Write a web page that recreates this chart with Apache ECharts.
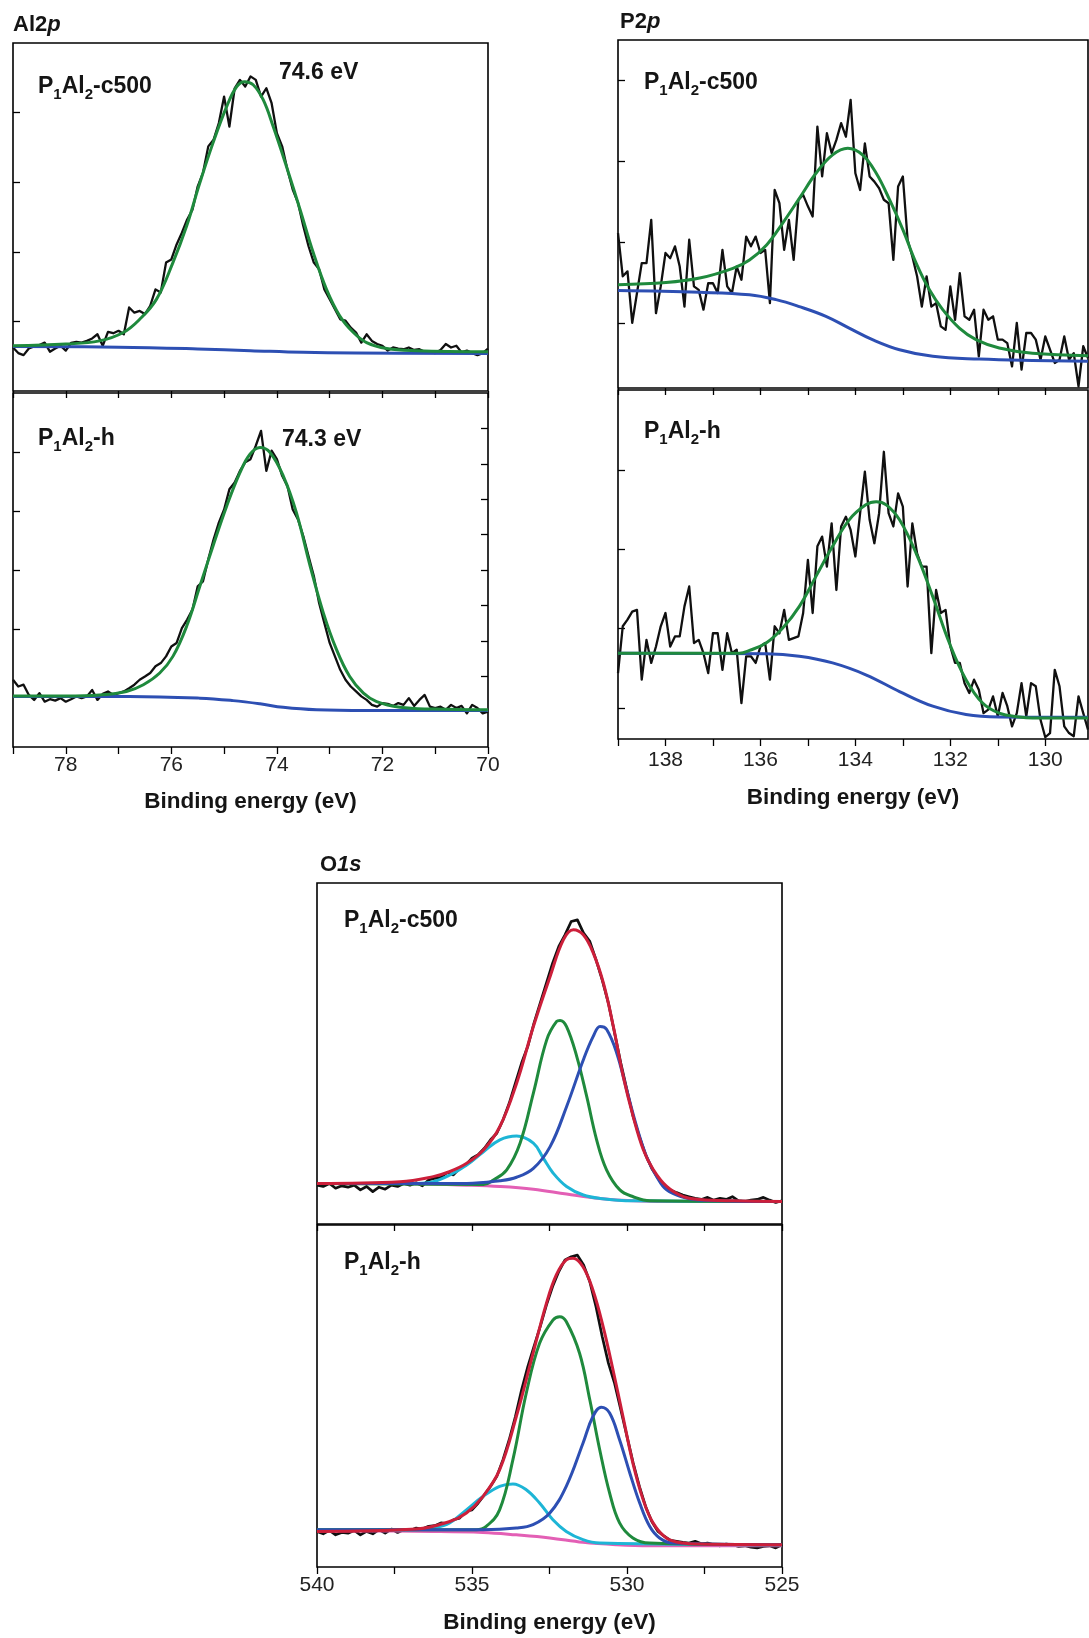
<!DOCTYPE html>
<html>
<head>
<meta charset="utf-8">
<script src="https://cdn.jsdelivr.net/npm/echarts@6/dist/echarts.min.js"></script>
<style>html,body{margin:0;padding:0;background:#fff}#c{width:1089px;height:1638px}</style>
</head>
<body>
<div id="c"></div>
<script>
// ---------------- Al 2p ----------------
const alE = [79.0,78.9,78.8,78.7,78.6,78.5,78.4,78.3,78.2,78.1,
78.0,77.9,77.8,77.7,77.6,77.5,77.4,77.3,77.2,77.1,
77.0,76.9,76.8,76.7,76.6,76.5,76.4,76.3,76.2,76.1,
76.0,75.9,75.8,75.7,75.6,75.5,75.4,75.3,75.2,75.1,
75.0,74.9,74.8,74.7,74.6,74.5,74.4,74.3,74.2,74.1,
74.0,73.9,73.8,73.7,73.6,73.5,73.4,73.3,73.2,73.1,
73.0,72.9,72.8,72.7,72.6,72.5,72.4,72.3,72.2,72.1,
72.0,71.9,71.8,71.7,71.6,71.5,71.4,71.3,71.2,71.1,
71.0,70.9,70.8,70.7,70.6,70.5,70.4,70.3,70.2,70.1,
70.0];
const alTopRaw = [12.5,10.9,10.3,12.2,12.8,13.2,13.9,11.3,12.2,13.0,
11.6,13.8,14.1,13.9,14.4,15.1,16.3,13.0,17.0,16.6,
17.3,16.3,24.0,22.5,23.0,22.1,24.5,29.2,28.3,36.9,
37.8,42.1,45.5,49.3,52.1,58.8,62.7,70.3,72.2,77.0,
84.6,76.0,87.0,89.4,87.5,90.4,89.4,84.6,87.0,82.7,
74.1,70.3,63.6,57.9,54.1,47.4,41.6,36.9,35.0,29.2,
26.4,23.5,20.6,20.2,18.2,16.8,13.9,16.3,14.4,13.5,
13.0,11.6,12.5,12.2,12.0,12.5,11.8,12.0,11.3,11.1,
10.9,11.8,13.5,12.5,13.0,11.1,11.6,10.9,10.3,10.9,
12.2];
const alTopFitE = [79.0,78.0,77.36,76.91,76.6,76.28,75.97,75.71,75.46,75.21,74.95,74.76,74.61,74.45,74.26,74.07,73.82,73.56,73.31,73.06,72.81,72.55,72.3,71.92,71.35,70.0];
const alTopFit  = [13.0,13.5,14.4,16.8,20.6,26.4,36.9,47.4,59.8,71.3,81.8,87.5,88.9,88.0,83.7,76.0,64.6,52.1,39.7,29.2,21.6,16.8,13.9,12.2,11.6,11.3];
const alTopBgE = [79,77,75.5,74.5,73.5,72.5,70];
const alTopBg  = [12.8,12.6,12.1,11.6,11.1,10.9,10.8];

const alLowRaw = [19.0,17.1,17.6,14.7,13.3,15.2,12.8,13.5,13.1,13.8,
12.8,13.5,14.3,13.8,14.3,16.1,13.3,15.0,15.7,14.7,
15.2,15.7,16.6,17.6,19.0,19.9,20.9,22.8,23.7,25.6,
28.4,29.4,33.6,36.0,38.8,45.4,46.8,53.0,58.6,63.4,
67.1,72.8,74.7,78.0,80.4,81.3,85.1,89.3,78.0,83.7,
81.3,76.6,73.7,67.1,64.3,59.6,53.9,48.3,40.7,35.0,
29.4,25.6,21.8,19.0,17.1,15.7,14.3,13.3,11.9,11.4,
12.4,12.2,11.6,12.4,11.9,13.8,11.6,13.3,14.7,11.4,
11.0,11.4,10.5,11.9,11.0,11.6,9.5,11.9,11.0,9.5,
10.0];
const alLowFitE = [79.0,78.0,77.36,76.85,76.53,76.22,75.97,75.71,75.46,75.21,74.95,74.70,74.51,74.32,74.13,73.88,73.63,73.37,73.12,72.87,72.62,72.36,72.11,71.67,71.04,70.0];
const alLowFit  = [14.4,14.4,14.7,15.7,17.6,20.9,25.6,34.1,45.4,56.8,68.1,77.5,82.7,84.6,83.2,76.6,66.2,51.1,37.9,27.5,19.9,15.2,12.8,11.2,10.7,10.5];
const alLowBgE = [79.0,76.8,75.46,74.83,74.32,73.88,73.25,72.3,70.0];
const alLowBg  = [14.3,14.3,13.8,13.1,12.2,11.2,10.5,10.3,10.3];

// ---------------- P 2p ----------------
const pE = [139.0,138.9,138.8,138.7,138.6,138.5,138.4,138.3,138.2,138.1,
138.0,137.9,137.8,137.7,137.6,137.5,137.4,137.3,137.2,137.1,
137.0,136.9,136.8,136.7,136.6,136.5,136.4,136.3,136.2,136.1,
136.0,135.9,135.8,135.7,135.6,135.5,135.4,135.3,135.2,135.1,
135.0,134.9,134.8,134.7,134.6,134.5,134.4,134.3,134.2,134.1,
134.0,133.9,133.8,133.7,133.6,133.5,133.4,133.3,133.2,133.1,
133.0,132.9,132.8,132.7,132.6,132.5,132.4,132.3,132.2,132.1,
132.0,131.9,131.8,131.7,131.6,131.5,131.4,131.3,131.2,131.1,
131.0,130.9,130.8,130.7,130.6,130.5,130.4,130.3,130.2,130.1,
130.0,129.9,129.8,129.7,129.6,129.5,129.4,129.3,129.2,129.1];
const pTopRaw = [44.5,32.1,33.5,18.7,27.3,35.9,35.9,48.3,21.5,29.2,
38.8,37.3,40.7,34.9,23.4,42.6,29.2,28.2,22.5,30.1,
30.1,27.3,39.7,29.2,27.3,34.9,31.1,43.5,40.7,43.5,
38.8,39.7,24.4,56.9,53.1,39.7,48.3,36.8,54.1,55.5,
52.2,49.3,75.1,60.8,73.2,67.5,71.3,76.1,72.2,82.8,
61.7,56.9,70.3,60.8,59.3,57.4,54.1,53.1,36.8,57.9,
60.8,42.6,37.8,32.1,23.4,32.1,23.4,24.4,17.7,16.7,
29.2,19.6,33.0,20.6,19.6,22.5,9.1,22.5,19.6,20.6,
13.9,13.9,12.9,6.2,18.7,5.3,15.8,15.8,13.9,8.1,
14.8,11.0,7.2,8.1,14.8,8.1,10.0,0.5,12.0,8.6];
const pTopFitE = [139.0,137.99,137.28,136.58,136.23,135.87,135.53,135.18,134.83,134.48,134.16,133.85,133.56,133.28,133.0,132.72,132.44,132.16,131.81,131.46,130.97,130.27,129.1];
const pTopFit  = [29.7,30.3,31.6,34.4,36.8,41.1,47.4,54.5,61.7,67.0,68.9,67.0,61.7,54.1,45.5,35.9,28.2,22.5,17.2,13.9,11.5,10.0,9.3];
const pTopBgE = [139.0,137.28,136.23,135.67,135.18,134.62,134.13,133.64,133.07,132.37,131.39,130.27,129.1];
const pTopBg  = [28.0,27.5,26.8,25.4,23.4,20.6,17.2,13.9,11.0,9.1,8.3,7.9,7.7];

const pLowRaw = [18.9,32.3,34.2,36.5,37.0,17.0,28.4,21.8,26.5,32.3,
36.1,26.5,29.4,29.4,38.0,43.7,27.5,28.4,24.6,18.9,
30.3,30.3,19.8,30.3,24.6,25.6,10.3,23.7,23.7,21.8,
26.5,27.5,17.0,32.3,30.3,37.0,28.4,28.9,29.4,36.1,
51.3,36.1,55.2,58.0,49.4,61.8,42.7,60.9,63.7,59.9,
52.3,64.7,76.6,62.8,56.1,64.7,82.3,64.7,60.9,70.4,
66.6,43.7,61.8,53.2,49.4,49.4,24.6,42.7,36.1,37.0,
26.5,21.8,21.8,16.0,13.2,17.0,14.1,7.4,8.4,12.2,
6.5,13.2,9.4,3.6,7.4,16.0,6.5,16.0,15.1,5.5,
0.5,1.7,19.8,15.1,3.6,1.7,0.8,12.2,7.4,2.7];
const pLowFitE = [139.0,136.44,136.23,135.88,135.53,135.18,134.83,134.48,134.13,133.78,133.56,133.35,133.07,132.72,132.37,132.02,131.67,131.32,130.97,130.55,130.27,129.1];
const pLowFit  = [24.6,24.6,25.4,27.5,31.8,38.0,46.6,55.2,62.8,67.1,68.0,67.1,62.8,53.2,40.8,27.5,17.0,10.3,7.4,6.3,6.0,6.0];
const pLowBgE = [139.0,135.88,135.18,134.48,133.78,133.07,132.37,131.67,130.97,129.1];
const pLowBg  = [24.6,24.4,23.7,21.8,18.4,13.6,9.4,7.0,6.3,6.2];

// ---------------- O 1s ----------------
const oE = [540.0,539.8,539.6,539.4,539.2,539.0,538.8,538.6,538.4,538.2,
538.0,537.8,537.6,537.4,537.2,537.0,536.8,536.6,536.4,536.2,
536.0,535.8,535.6,535.4,535.2,535.0,534.8,534.6,534.4,534.2,
534.0,533.8,533.6,533.4,533.2,533.0,532.8,532.6,532.4,532.2,
532.0,531.8,531.6,531.4,531.2,531.0,530.8,530.6,530.4,530.2,
530.0,529.8,529.6,529.4,529.2,529.0,528.8,528.6,528.4,528.2,
528.0,527.8,527.6,527.4,527.2,527.0,526.8,526.6,526.4,526.2,
526.0,525.8,525.6,525.4,525.2,525.0];
const oTopRaw = [11.4,11.0,11.9,10.5,11.2,10.8,11.4,10.0,11.0,9.5,
10.8,10.2,11.4,11.0,11.9,11.4,12.1,11.2,12.9,13.4,
13.7,15.1,14.4,16.3,17.3,19.3,20.3,22.2,24.7,26.6,
30.5,35.4,41.3,47.2,52.1,58.9,64.8,70.6,76.5,81.4,
84.8,88.7,89.2,85.3,82.9,77.5,71.6,64.8,56.0,47.2,
39.3,31.5,25.6,20.3,16.3,13.4,11.4,10.0,9.2,8.5,
8.0,7.5,7.2,7.8,7.0,7.5,7.2,8.0,6.8,6.6,
7.0,7.2,7.8,7.0,6.3,6.8];
const oTopEnvE = [540.0,537.32,536.25,535.71,535.17,534.63,534.10,533.56,533.02,532.48,532.05,531.73,531.41,531.09,530.76,530.44,530.12,529.80,529.47,529.15,528.72,528.18,527.65,526.57,525.0];
const oTopEnv  = [11.9,12.4,13.9,15.4,17.8,21.7,28.6,41.3,57.9,72.6,83.4,86.3,84.8,79.5,70.6,57.9,43.2,31.5,21.7,15.9,11.0,8.0,7.2,6.8,6.6];
const oTopAE = [540.0,534.63,534.31,533.88,533.45,533.02,532.59,532.27,532.16,531.95,531.62,531.30,530.98,530.66,530.23,529.80,529.26,525.0];
const oTopA  = [11.9,11.6,12.9,15.9,23.7,38.4,54.0,59.4,59.7,57.9,49.1,37.4,24.7,15.9,10.0,8.0,6.8,6.6];
const oTopBE = [540.0,535.17,534.10,533.56,533.02,532.48,531.95,531.41,531.09,530.87,530.66,530.33,530.01,529.69,529.37,529.04,528.72,528.18,527.65,525.0];
const oTopB  = [11.9,11.9,12.7,13.7,16.3,22.7,34.4,48.1,55.0,57.9,57.1,50.1,39.3,28.6,19.8,13.9,10.0,7.8,7.0,6.6];
const oTopCE = [540.0,536.78,536.25,535.71,535.17,534.63,534.10,533.56,533.02,532.70,532.38,531.95,531.41,530.87,529.80,525.0];
const oTopC  = [11.9,11.9,12.4,14.4,17.3,21.2,24.7,25.8,23.7,19.3,14.9,11.0,8.5,7.5,6.8,6.6];
const oTopBgE = [540.0,537.32,535.17,534.10,533.02,531.95,530.87,529.80,528.72,525.0];
const oTopBg  = [11.9,11.9,11.4,11.0,10.2,8.8,7.5,6.8,6.6,6.6];

const oLowRaw = [10.4,9.7,10.7,9.4,10.1,9.9,10.7,9.4,10.4,9.7,
10.9,9.9,11.1,10.1,10.9,10.7,11.4,11.1,11.9,12.1,
12.9,12.7,13.8,14.3,16.3,16.7,18.7,21.1,23.6,26.5,
31.4,37.2,44.0,51.8,58.6,64.5,70.3,76.6,82.0,86.4,
89.8,90.7,91.2,88.3,83.4,76.1,67.4,59.6,53.7,46.0,
38.2,30.4,23.6,17.7,13.3,10.4,9.0,7.8,7.5,7.2,
7.0,7.5,6.8,7.0,6.5,6.2,6.7,6.5,6.0,6.2,
5.8,5.6,6.0,6.2,5.6,6.5];
const oLowEnvE = [540.0,536.80,535.72,535.18,534.65,534.11,533.57,533.03,532.60,532.28,531.96,531.74,531.42,531.10,530.77,530.45,530.13,529.81,529.48,529.16,528.73,528.19,527.66,525.0];
const oLowEnv  = [10.4,11.1,13.3,15.8,20.6,28.4,44.0,62.5,77.1,85.4,89.8,90.3,87.8,81.0,70.3,57.6,44.0,30.4,19.7,12.9,8.5,7.0,6.7,6.5];
const oLowAE = [540.0,534.86,534.54,534.11,533.68,533.25,532.82,532.39,532.17,531.96,531.53,531.20,530.88,530.56,530.24,529.81,529.27,525.0];
const oLowA  = [10.9,10.9,11.9,16.7,31.4,50.8,65.4,72.2,73.2,71.8,62.5,48.9,34.3,21.6,12.9,8.5,7.0,6.5];
const oLowBE = [540.0,534.65,533.57,533.03,532.49,531.96,531.42,531.10,530.83,530.56,530.24,529.91,529.59,529.27,528.95,528.52,525.0];
const oLowB  = [10.9,10.9,11.4,12.4,15.8,23.6,36.2,44.0,46.7,45.0,37.2,27.5,18.7,11.9,8.5,7.0,6.5];
const oLowCE = [540.0,536.80,536.26,535.72,535.18,534.65,534.11,533.68,533.25,532.82,532.39,531.96,531.42,530.88,525.0];
const oLowC  = [10.9,10.9,11.4,12.9,16.7,20.6,23.6,24.3,22.6,18.7,13.8,10.4,8.0,7.0,6.5];
const oLowBgE = [540.0,536.26,534.65,533.57,532.49,531.42,530.34,529.27,525.0];
const oLowBg  = [10.6,10.4,10.1,9.4,8.5,7.2,6.5,6.2,6.2];

// ---------------- ticks ----------------
const alTicks = [70,71,72,73,74,75,76,77,78,79];
const alLabels = [70,72,74,76,78];
const pTicks = [130,131,132,133,134,135,136,137,138,139];
const pLabels = [130,132,134,136,138];
const oTicks = [525,527.5,530,532.5,535,537.5,540];
const oLabels = [525,530,535,540];
const alTopY = [20,40,60,80];
const alLowY = [33.3,50,66.7,83.3];
const alLowYRight = [20,30,40,50,60,70,80,90];
const pTopY = [18.6,41.9,65.2,88.5];
const pLowY = [8.9,31.7,54.4,77.1];

const FONT = '"Liberation Sans", Arial, Helvetica, sans-serif';
const C = {black:'#101010', green:'#1f8a3d', blue:'#2d4fb3', red:'#cc1f3a', cyan:'#1db5d6', pink:'#e35fb5'};
const zip = (xs, ys) => xs.map((x, i) => [x, ys[i]]);

const grids = [
  {left:13, top:43, width:475, height:348},
  {left:13, top:393, width:475, height:354},
  {left:618, top:40, width:470, height:348},
  {left:618, top:390, width:470, height:349},
  {left:317, top:883, width:465, height:341},
  {left:317, top:1225, width:465, height:342}
].map(g => Object.assign({show:true, borderColor:'#000', borderWidth:1.6, backgroundColor:'transparent', containLabel:false, outerBoundsMode:'none'}, g));

function xAx(i, min, max, ticks, labels, bottom, margin, gap) {
  return {
    type:'value', gridIndex:i, inverse:true, min:min, max:max,
    axisLine:{show:false}, splitLine:{show:false},
    axisTick:{show:true, inside:false, length:7, customValues:ticks, lineStyle:{color:'#000', width:1.3}},
    axisLabel:{show:bottom, customValues:labels, fontSize:21, color:'#222', fontFamily:FONT, margin:margin},
    name: bottom ? 'Binding energy (eV)' : '', nameLocation:'middle', nameGap:gap,
    nameTextStyle:{fontSize:22.5, fontWeight:'bold', color:'#151515', fontFamily:FONT}
  };
}
function yAx(i, ticks, pos) {
  return {
    type:'value', gridIndex:i, min:0, max:100, position:pos || 'left',
    axisLine:{show:false}, axisLabel:{show:false}, splitLine:{show:false},
    axisTick:{show: ticks.length > 0, inside:true, length:7, customValues: ticks.length ? ticks : undefined, lineStyle:{color:'#000', width:1.3}}
  };
}
function ln(i, name, xs, ys, color, width, smooth, z) {
  return {
    type:'line', name:name, xAxisIndex:i, yAxisIndex:i, data:zip(xs, ys),
    showSymbol:false, symbol:'none', smooth:smooth, z:z,
    lineStyle:{color:color, width:width, join:'round'}, animation:false
  };
}

const xAxes = [
  xAx(0, 70, 79, alTicks, alLabels, false, 8, 43),
  xAx(1, 70, 79, alTicks, alLabels, true, 8, 43),
  xAx(2, 129.1, 139, pTicks, pLabels, false, 11, 47),
  xAx(3, 129.1, 139, pTicks, pLabels, true, 11, 47),
  xAx(4, 525, 540, oTicks, oLabels, false, 8, 44),
  xAx(5, 525, 540, oTicks, oLabels, true, 8, 44)
];
const yAxes = [
  yAx(0, alTopY), yAx(1, alLowY), yAx(2, pTopY), yAx(3, pLowY), yAx(4, []), yAx(5, []),
  yAx(1, alLowYRight, 'right')
];

const BW = 2.3, FW = 3;
const series = [
  ln(0, 'Al2p c500 data', alE, alTopRaw, C.black, BW, false, 2),
  ln(0, 'Al2p c500 background', alTopBgE, alTopBg, C.blue, FW, 0.4, 3),
  ln(0, 'Al2p c500 fit', alTopFitE, alTopFit, C.green, FW, 0.4, 4),
  ln(1, 'Al2p h data', alE, alLowRaw, C.black, BW, false, 2),
  ln(1, 'Al2p h background', alLowBgE, alLowBg, C.blue, FW, 0.4, 3),
  ln(1, 'Al2p h fit', alLowFitE, alLowFit, C.green, FW, 0.4, 4),
  ln(2, 'P2p c500 data', pE, pTopRaw, C.black, BW, false, 2),
  ln(2, 'P2p c500 background', pTopBgE, pTopBg, C.blue, FW, 0.4, 3),
  ln(2, 'P2p c500 fit', pTopFitE, pTopFit, C.green, FW, 0.4, 4),
  ln(3, 'P2p h data', pE, pLowRaw, C.black, BW, false, 2),
  ln(3, 'P2p h background', pLowBgE, pLowBg, C.blue, FW, 0.4, 3),
  ln(3, 'P2p h fit', pLowFitE, pLowFit, C.green, FW, 0.4, 4),
  ln(4, 'O1s c500 data', oE, oTopRaw, C.black, BW + 0.4, false, 2),
  ln(4, 'O1s c500 background', oTopBgE, oTopBg, C.pink, FW, 0.4, 3),
  ln(4, 'O1s c500 peak 3', oTopCE, oTopC, C.cyan, FW, 0.4, 4),
  ln(4, 'O1s c500 peak 1', oTopAE, oTopA, C.green, FW, 0.4, 4),
  ln(4, 'O1s c500 peak 2', oTopBE, oTopB, C.blue, FW, 0.4, 5),
  ln(4, 'O1s c500 envelope', oTopEnvE, oTopEnv, C.red, FW, 0.4, 6),
  ln(5, 'O1s h data', oE, oLowRaw, C.black, BW + 0.4, false, 2),
  ln(5, 'O1s h background', oLowBgE, oLowBg, C.pink, FW, 0.4, 3),
  ln(5, 'O1s h peak 3', oLowCE, oLowC, C.cyan, FW, 0.4, 4),
  ln(5, 'O1s h peak 1', oLowAE, oLowA, C.green, FW, 0.4, 4),
  ln(5, 'O1s h peak 2', oLowBE, oLowB, C.blue, FW, 0.4, 5),
  ln(5, 'O1s h envelope', oLowEnvE, oLowEnv, C.red, FW, 0.4, 6)
];

const tokN = {fontSize:23, fontWeight:'bold', fontFamily:FONT, fill:'#151515', lineHeight:30, verticalAlign:'middle'};
const tokS = {fontSize:15, fontWeight:'bold', fontFamily:FONT, fill:'#151515', lineHeight:15, verticalAlign:'bottom'};
const tokT = {fontSize:22, fontWeight:'bold', fontFamily:FONT, fill:'#151515', lineHeight:28, verticalAlign:'middle'};
const tokI = {fontSize:22, fontWeight:'bold', fontStyle:'italic', fontFamily:FONT, fill:'#151515', lineHeight:28, verticalAlign:'middle'};
function txt(x, y, text) {
  return {type:'text', x:x, y:y, silent:true, z:100,
    style:{text:text, align:'left', verticalAlign:'middle', fontSize:23, fontWeight:'bold', fontFamily:FONT, fill:'#151515',
      rich:{n:tokN, s:tokS, t:tokT, i:tokI}}};
}
const c500 = '{n|P}{s|1}{n|Al}{s|2}{n|-c500}';
const hLab = '{n|P}{s|1}{n|Al}{s|2}{n|-h}';
const graphic = [
  txt(13, 25, '{t|Al2}{i|p}'),
  txt(620, 22, '{t|P2}{i|p}'),
  txt(320, 865, '{t|O}{i|1s}'),
  txt(38, 87, c500),
  txt(279, 73, '{n|74.6 eV}'),
  txt(38, 439, hLab),
  txt(282, 440, '{n|74.3 eV}'),
  txt(644, 83, c500),
  txt(644, 432, hLab),
  txt(344, 921, c500),
  txt(344, 1263, hLab)
];

const chart = echarts.init(document.getElementById('c'), null, {renderer:'canvas'});
chart.setOption({
  animation:false,
  backgroundColor:'#fff',
  grid:grids,
  xAxis:xAxes,
  yAxis:yAxes,
  series:series,
  graphic:graphic
});
</script>
</body>
</html>
